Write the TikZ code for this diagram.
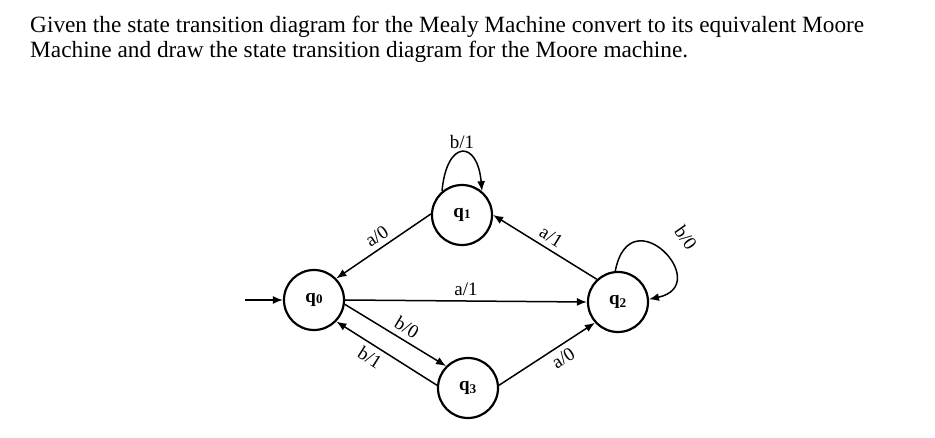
\documentclass[tikz,border=0pt]{standalone}
\usepackage{fontspec}
\setmainfont{Liberation Serif}
\usetikzlibrary{arrows.meta}
\begin{document}
\begin{tikzpicture}[x=1pt,y=1pt,
  state/.style={circle,draw,line width=2.2pt,minimum size=60pt,inner sep=0pt,font=\fontsize{19}{19}\selectfont\bfseries},
  edge/.style={line width=1.5pt,-{Latex[length=10pt,width=8pt]}},
  lab/.style={font=\fontsize{19}{19}\selectfont,inner sep=5pt},
  titletext/.style={anchor=base west,inner sep=0pt,font=\fontsize{23.3}{25}\selectfont}]
\useasboundingbox (0,0) rectangle (935,-438);
\node[titletext] (t1) at (30,-33) {Given the state transition diagram for the Mealy Machine convert to its equivalent Moore};
\node[titletext] (t2) at (30,-58) {Machine and draw the state transition diagram for the Moore machine.};

\node[state] (q0) at (314,-300) {q\raisebox{-1pt}{\fontsize{13}{13}\selectfont 0}};
\node[state] (q1) at (462,-215) {q\raisebox{-1pt}{\fontsize{13}{13}\selectfont 1}};
\node[state] (q2) at (618,-302) {q\textsubscript{2}};
\node[state] (q3) at (468,-388) {q\textsubscript{3}};
\coordinate (start) at (245,-300);

\draw[edge] (start) -- (q0.west);
\draw[edge] (q1.178) -- node[lab,sloped,above] {a/0} (q0.44);
\draw[edge] (q2.133) -- node[lab,sloped,above] {a/1} (q1.0);
\draw[edge] (q0.0) -- node[lab,above,pos=0.5] {a/1} (q2.180);
\draw[edge] (q0.-8) -- node[lab,sloped,above,pos=0.55] {b/0} (q3.135);
\draw[edge] (q3.175) -- node[lab,sloped,below,pos=0.6] {b/1} (q0.-44);
\draw[edge] (q3.5) -- node[lab,sloped,below,pos=0.6] {a/0} (q2.222);
\draw[edge] (q1.130) .. controls +(85:52) and +(95:52) .. node[lab,above,inner sep=3pt] {b/1} (q1.50);
\draw[edge] (q2.95) .. controls (630,-195) and (715,-285) .. (q2.5);
\node[lab,rotate=-55] (lb) at (686,-238) {b/0};
\end{tikzpicture}
\end{document}
